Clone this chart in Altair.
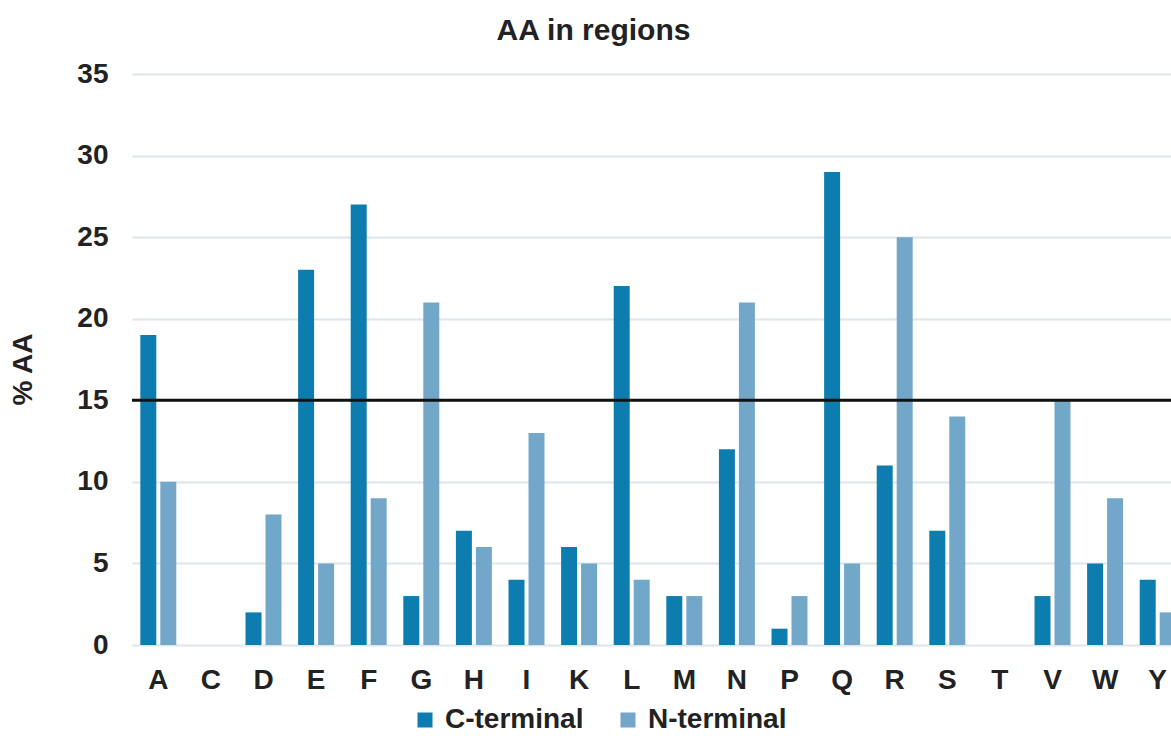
import altair as alt
import pandas as pd

# Amino-acid share (%) in the C-terminal and N-terminal regions
residues = ["A", "C", "D", "E", "F", "G", "H", "I", "K", "L",
            "M", "N", "P", "Q", "R", "S", "T", "V", "W", "Y"]
c_terminal = [19, 0, 2, 23, 27, 3, 7, 4, 6, 22, 3, 12, 1, 29, 11, 7, 0, 3, 5, 4]
n_terminal = [10, 0, 8, 5, 9, 21, 6, 13, 5, 4, 3, 21, 3, 5, 25, 14, 0, 15, 9, 2]
series = ["C-terminal", "N-terminal"]
colors = ["#0d7db0", "#72a7c9"]
threshold = 15

rows = []
for i, aa in enumerate(residues):
    rows.append({"aa": aa, "region": series[0], "pct": c_terminal[i]})
    rows.append({"aa": aa, "region": series[1], "pct": n_terminal[i]})
df = pd.DataFrame(rows)

FONT = "Liberation Sans"
W, H = 1039, 571
STEP_RANGE = 1052  # categories continue past the right edge of the view

bars = alt.Chart(df).mark_bar().encode(
    x=alt.X("aa:N", sort=residues,
            scale=alt.Scale(range=[0, STEP_RANGE], paddingInner=0.316, paddingOuter=0.158),
            axis=alt.Axis(title=None, labelAngle=0, labelFontSize=28, labelFont=FONT,
                          labelFontWeight="bold", labelColor="#222222", ticks=False,
                          tickSize=0, domain=False, labelBaseline="alphabetic",
                          labelPadding=43)),
    xOffset=alt.XOffset("region:N", sort=series,
                        scale=alt.Scale(paddingInner=0.2, paddingOuter=0)),
    y=alt.Y("pct:Q", scale=alt.Scale(domain=[0, 35], nice=False),
            axis=alt.Axis(title="% AA", values=[0, 5, 10, 15, 20, 25, 30, 35],
                          labelFontSize=28, labelFont=FONT, labelFontWeight="bold",
                          labelColor="#222222", ticks=False, tickSize=0, domain=False,
                          labelPadding=24, gridColor="#dde6ec", gridWidth=2,
                          titleFontSize=28, titleFont=FONT, titleFontWeight="bold",
                          titleColor="#222222", titleAngle=270, titleX=-109,
                          titleY=295, titleBaseline="middle", titleAlign="center")),
    color=alt.Color("region:N", sort=series,
                    scale=alt.Scale(domain=series, range=colors),
                    legend=alt.Legend(title=None, orient="none", direction="horizontal",
                                      legendX=279, legendY=632, symbolType="square",
                                      symbolSize=225, symbolStrokeWidth=0,
                                      labelFontSize=28, labelFont=FONT,
                                      labelFontWeight="bold", labelColor="#222222",
                                      labelOffset=6, columnPadding=30)),
)

rule = alt.Chart(pd.DataFrame({"y": [threshold]})).mark_rule(
    color="#111111", strokeWidth=3
).encode(y="y:Q", x=alt.value(0), x2=alt.value(W))

chart = alt.layer(bars, rule).properties(
    width=W, height=H,
    title=alt.TitleParams("AA in regions", fontSize=30, font=FONT, fontWeight="bold",
                          color="#222222", anchor="middle", dx=-58, dy=-10),
    autosize=alt.AutoSizeParams(type="none"),
    padding={"left": 132, "top": 74, "right": 0, "bottom": 91},
).configure_view(stroke=None)

chart.save("out.html", embed_options={"renderer": "svg", "actions": False})
